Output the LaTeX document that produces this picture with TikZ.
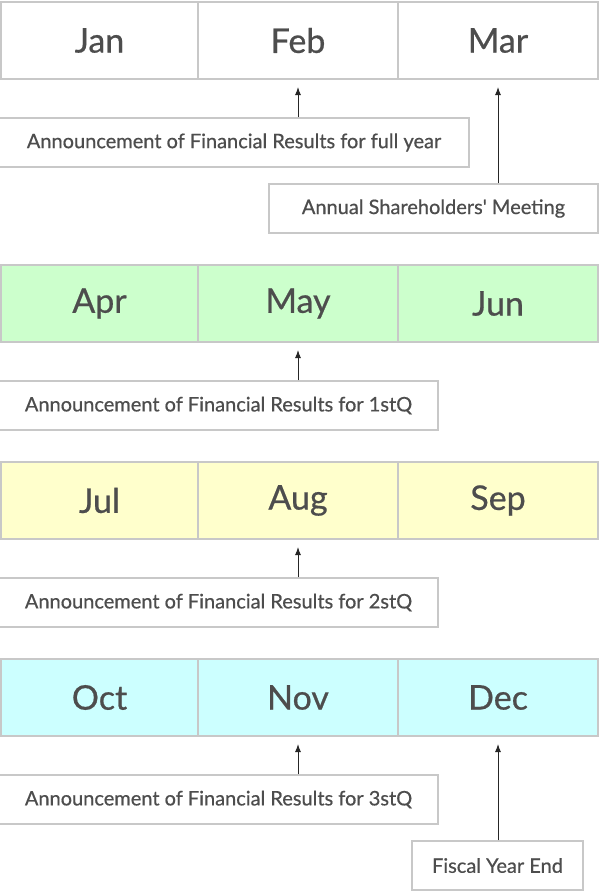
\documentclass[tikz,border=0pt]{standalone}
\usepackage{fontspec}
\setmainfont{Lato}[FakeBold=0.6]
\usetikzlibrary{arrows.meta}
\definecolor{bordergray}{HTML}{C8C8C8}
\definecolor{txtgray}{HTML}{4D4D4D}
\definecolor{cgreen}{HTML}{CCFFCC}
\definecolor{cyellow}{HTML}{FFFFCC}
\definecolor{ccyan}{HTML}{CCFFFF}
\tikzset{
  cell/.style={draw=bordergray, line width=2pt, minimum height=77pt, inner sep=0pt,
    text=txtgray, font=\fontsize{34}{36}\selectfont},
  wcell/.style={cell, minimum width=200pt},
  lbox/.style={draw=bordergray, line width=1.3pt, minimum height=49pt, inner sep=0pt,
    text=txtgray, font=\fontsize{20}{22}\selectfont, fill=white},
  arr/.style={-{Latex[length=8pt,width=6pt]}, line width=1pt, draw=black!85},
}
\begin{document}
\begin{tikzpicture}[x=1pt,y=-1pt]
\useasboundingbox[fill=white] (0,0) rectangle (600,892);
% Row 1
\node[cell, minimum width=197pt, fill=white] (jan) at (99.5,40.5) {Jan};
\node[wcell, fill=white] (feb) at (298,40.5) {Feb};
\node[wcell, fill=white] (mar) at (498,40.5) {Mar};
% Row 2
\node[cell, minimum width=197pt, fill=cgreen] (apr) at (99.5,303.5) {Apr};
\node[wcell, fill=cgreen] (may) at (298,303.5) {May};
\node[wcell, fill=cgreen] (jun) at (498,303.5) {Jun};
% Row 3
\node[cell, minimum width=197pt, fill=cyellow] (jul) at (99.5,500.5) {Jul};
\node[wcell, fill=cyellow] (aug) at (298,500.5) {Aug};
\node[wcell, fill=cyellow] (sep) at (498,500.5) {Sep};
% Row 4
\node[cell, minimum width=197pt, fill=ccyan] (oct) at (99.5,697.5) {Oct};
\node[wcell, fill=ccyan] (nov) at (298,697.5) {Nov};
\node[wcell, fill=ccyan] (dec) at (498,697.5) {Dec};
% Labels
\node[lbox, minimum width=470pt] (full) at (234,142.5) {Announcement of Financial Results for full year};
\node[lbox, minimum width=329pt] (agm) at (433.5,208.5) {Annual Shareholders\textquotesingle\ Meeting};
\node[lbox, minimum width=439pt] (q1) at (218.5,405.5) {Announcement of Financial Results for 1stQ};
\node[lbox, minimum width=439pt] (q2) at (218.5,602.5) {Announcement of Financial Results for 2stQ};
\node[lbox, minimum width=439pt] (q3) at (218.5,799.5) {Announcement of Financial Results for 3stQ};
\node[lbox, minimum width=171pt] (fye) at (497.5,865.5) {Fiscal Year End};
% Arrows
\draw[arr] (full.north -| feb.south) -- ([yshift=-7pt]feb.south);
\draw[arr] (agm.north -| mar.south) -- ([yshift=-7pt]mar.south);
\draw[arr] (q1.north -| may.south) -- ([yshift=-7pt]may.south);
\draw[arr] (q2.north -| aug.south) -- ([yshift=-7pt]aug.south);
\draw[arr] (q3.north -| nov.south) -- ([yshift=-7pt]nov.south);
\draw[arr] (fye.north -| dec.south) -- ([yshift=-7pt]dec.south);
\end{tikzpicture}
\end{document}
